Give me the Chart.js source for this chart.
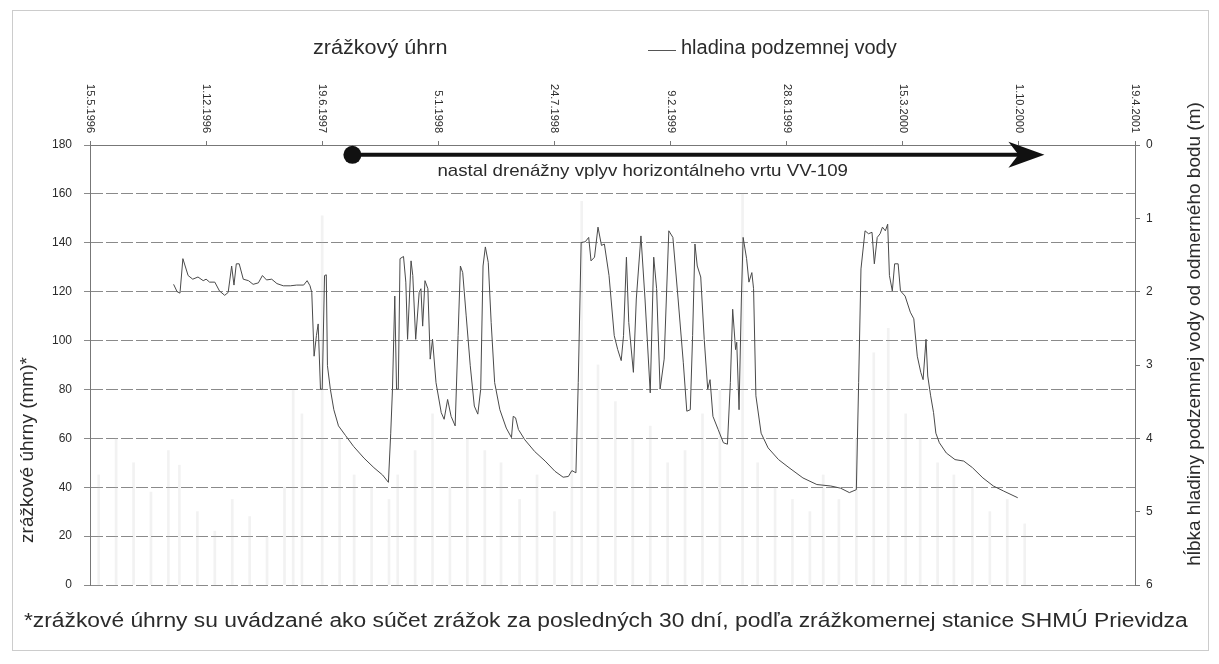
<!DOCTYPE html>
<html>
<head>
<meta charset="utf-8">
<script src="https://cdn.jsdelivr.net/npm/chart.js@4.4.0/dist/chart.umd.min.js"></script>
<style>
  body { margin: 0; background: #fff; }
  #graf { display: block; }
</style>
</head>
<body>
<canvas id="graf" width="1219" height="664"></canvas>
<script>
// dátumy na hornej osi (krok 200 dní od 15.5.1996)
const datumy = [
    '15.5.1996', '1.12.1996', '19.6.1997', '5.1.1998', '24.7.1998',
    '9.2.1999', '28.8.1999', '15.3.2000', '1.10.2000', '19.4.2001'
];

// hladina podzemnej vody: deň od 15.5.1996 a hĺbka (m)
const dni = [
    144, 150, 155, 160, 169, 177, 186, 195, 200, 206, 215, 223, 232, 238, 244, 248, 252, 257, 264, 273,
    281, 290, 297, 304, 313, 322, 333, 345, 356, 368, 374, 379, 382, 386, 390, 393, 397, 400, 404, 407,
    409, 414, 420, 428, 440, 454, 472, 489, 504, 514, 518, 521, 525, 528, 531, 534, 540, 544, 547, 553,
    556, 561, 567, 570, 573, 577, 582, 586, 590, 596, 605, 610, 616, 622, 629, 634, 638, 642, 648, 655,
    662, 668, 673, 677, 681, 686, 691, 697, 706, 717, 726, 729, 733, 738, 749, 766, 784, 801, 815, 824,
    830, 837, 841, 846, 853, 859, 863, 869, 875, 881, 886, 894, 903, 909, 915, 919, 924, 928, 936, 941,
    949, 956, 965, 971, 976, 982, 989, 997, 1004, 1013, 1022, 1028, 1034, 1038, 1042, 1046, 1052, 1058, 1064, 1068,
    1073, 1082, 1091, 1098, 1103, 1107, 1112, 1114, 1118, 1122, 1125, 1131, 1135, 1140, 1143, 1147, 1156, 1168, 1186, 1204,
    1228, 1252, 1276, 1293, 1308, 1320, 1324, 1328, 1335, 1341, 1347, 1351, 1356, 1361, 1365, 1370, 1374, 1377, 1382, 1386,
    1392, 1396, 1404, 1413, 1419, 1425, 1431, 1435, 1440, 1443, 1448, 1453, 1457, 1463, 1475, 1490, 1505, 1520, 1538, 1556,
    1574, 1598
];
const hlbka = [
    1.90, 2.00, 2.02, 1.55, 1.78, 1.83, 1.80, 1.85, 1.83, 1.87, 1.87, 1.99, 2.05, 2.01, 1.65, 1.91, 1.62, 1.62, 1.83, 1.85,
    1.90, 1.88, 1.78, 1.84, 1.83, 1.89, 1.92, 1.92, 1.91, 1.91, 1.85, 1.92, 2.01, 2.88, 2.60, 2.44, 3.33, 3.33, 1.78, 1.77,
    3.01, 3.33, 3.61, 3.83, 3.96, 4.11, 4.27, 4.40, 4.50, 4.60, 3.93, 3.33, 2.06, 3.33, 3.33, 1.55, 1.52, 1.87, 2.65, 1.58,
    1.78, 2.65, 2.01, 1.96, 2.47, 1.85, 1.96, 2.92, 2.65, 3.24, 3.65, 3.74, 3.47, 3.70, 3.83, 2.60, 1.65, 1.74, 2.33, 3.01,
    3.56, 3.67, 3.33, 1.65, 1.39, 1.60, 2.42, 3.24, 3.61, 3.86, 3.99, 3.70, 3.72, 3.88, 4.02, 4.18, 4.31, 4.45, 4.53, 4.52,
    4.44, 4.47, 3.24, 1.33, 1.32, 1.26, 1.58, 1.53, 1.12, 1.37, 1.35, 1.78, 2.60, 2.79, 2.94, 2.60, 1.53, 2.42, 3.10, 2.10,
    1.24, 2.10, 3.38, 1.53, 1.96, 3.33, 2.92, 1.17, 1.26, 2.10, 2.97, 3.63, 3.61, 2.60, 1.35, 1.65, 1.80, 2.65, 3.33, 3.20,
    3.70, 3.88, 4.06, 4.08, 3.24, 2.24, 2.79, 2.69, 3.61, 2.10, 1.26, 1.55, 1.87, 1.74, 1.96, 3.42, 3.93, 4.13, 4.29, 4.40,
    4.54, 4.63, 4.65, 4.68, 4.74, 4.70, 3.24, 1.69, 1.17, 1.21, 1.19, 1.62, 1.26, 1.21, 1.12, 1.17, 1.08, 1.78, 1.99, 1.62,
    1.62, 1.99, 2.06, 2.28, 2.37, 2.88, 3.10, 3.20, 2.65, 3.15, 3.42, 3.65, 3.93, 4.06, 4.20, 4.29, 4.31, 4.40, 4.54, 4.65,
    4.72, 4.81
];

// zrážkové úhrny (mm) - v skene len slabo viditeľné
const zrazkyDni = [
    15, 45, 75, 105, 135, 154, 185, 215, 245, 275, 305, 335, 350, 365, 400, 430, 455, 485, 515, 530,
    560, 590, 620, 650, 680, 708, 740, 770, 800, 830, 847, 875, 905, 935, 965, 995, 1025, 1055, 1085, 1124,
    1150, 1180, 1210, 1240, 1263, 1290, 1320, 1350, 1375, 1405, 1430, 1460, 1488, 1520, 1550, 1580, 1610
];
const zrazky = [
    45, 60, 50, 38, 55, 49, 30, 22, 35, 28, 20, 40, 80, 70, 151, 60, 45, 40, 35, 45,
    55, 70, 40, 60, 55, 50, 35, 45, 30, 60, 157, 90, 75, 60, 65, 50, 55, 70, 80, 160,
    50, 40, 35, 30, 45, 35, 60, 95, 105, 70, 60, 50, 45, 40, 30, 35, 25
];

// šípka: nastal drenážny vplyv
const sipkaOd = 452;
const sipkaDo = 1644;
const sipkaUroven = 176;

const FONT = '"Liberation Sans", Arial, sans-serif';
const TEXT = '#2b2b2b';

// text trochu roztiahnutý do šírky (sken je širší)
function text(ctx, s, x, y, size, sx) {
    ctx.save();
    ctx.font = size + 'px ' + FONT;
    ctx.translate(x, y);
    ctx.scale(sx, 1);
    ctx.fillText(s, 0, 0);
    ctx.restore();
}

// vlastné kreslenie: rám, legenda, dátumy, šípka, popisy osí
const kresba = {
    id: 'kresba',
    beforeDraw(chart) {
        const ctx = chart.ctx;
        ctx.save();
        ctx.fillStyle = '#fff';
        ctx.fillRect(0, 0, chart.width, chart.height);
        ctx.strokeStyle = '#cccccc';
        ctx.lineWidth = 1;
        ctx.strokeRect(12.5, 10.5, 1196, 640);
        ctx.restore();
    },
    afterDraw(chart) {
        const ctx = chart.ctx;
        const sx = chart.scales.x;
        const sy = chart.scales.y;
        ctx.save();
        ctx.fillStyle = TEXT;

        // dátumy
        ctx.font = '11px ' + FONT;
        ctx.textAlign = 'right';
        ctx.textBaseline = 'middle';
        sx.ticks.forEach((t, i) => {
            const px = sx.getPixelForValue(t.value);
            ctx.save();
            ctx.translate(px, 133);
            ctx.rotate(Math.PI / 2);
            ctx.fillText(datumy[i] || '', 0, 0);
            ctx.restore();
        });

        // legenda
        ctx.textAlign = 'left';
        text(ctx, chart.data.datasets[0].label, 313, 48, 20, 1.08);
        ctx.strokeStyle = '#555';
        ctx.lineWidth = 1;
        ctx.beginPath();
        ctx.moveTo(648, 50.5);
        ctx.lineTo(676, 50.5);
        ctx.stroke();
        text(ctx, chart.data.datasets[1].label, 681, 48, 20, 1.0);

        // šípka
        const x0 = sx.getPixelForValue(sipkaOd);
        const x1 = sx.getPixelForValue(sipkaDo);
        const yy = sy.getPixelForValue(sipkaUroven);
        ctx.fillStyle = '#111';
        ctx.strokeStyle = '#111';
        ctx.lineWidth = 4;
        ctx.beginPath();
        ctx.moveTo(x0, yy);
        ctx.lineTo(x1 - 20, yy);
        ctx.stroke();
        ctx.beginPath();
        ctx.arc(x0, yy, 9, 0, Math.PI * 2);
        ctx.fill();
        ctx.beginPath();
        ctx.moveTo(x1, yy);
        ctx.lineTo(x1 - 36, yy - 13);
        ctx.lineTo(x1 - 26, yy);
        ctx.lineTo(x1 - 36, yy + 13);
        ctx.closePath();
        ctx.fill();

        ctx.fillStyle = TEXT;
        text(ctx, 'nastal drenážny vplyv horizontálneho vrtu VV-109', x0 + 85, yy + 17, 17, 1.1);

        // popisy osí
        ctx.textAlign = 'center';
        ctx.font = '19px ' + FONT;
        ctx.save();
        ctx.translate(28, 450);
        ctx.rotate(-Math.PI / 2);
        ctx.fillText('zrážkové úhrny (mm)*', 0, 0);
        ctx.restore();

        ctx.save();
        ctx.translate(1195, 334);
        ctx.rotate(-Math.PI / 2);
        ctx.fillText('hĺbka hladiny podzemnej vody od odmerného bodu (m)', 0, 0);
        ctx.restore();

        // poznámka
        ctx.textAlign = 'left';
        text(ctx, '*zrážkové úhrny su uvádzané ako súčet zrážok za posledných 30 dní, podľa zrážkomernej stanice SHMÚ Prievidza', 24, 621, 20, 1.14);

        ctx.restore();
    }
};

const data = {
    datasets: [{
        type: 'bar',
        label: 'zrážkový úhrn',
        data: zrazkyDni.map((d, i) => ({ x: d, y: zrazky[i] })),
        backgroundColor: 'rgba(185, 185, 185, 0.18)',
        barThickness: 2,
        xAxisID: 'x',
        yAxisID: 'y',
        order: 2
    }, {
        type: 'line',
        label: 'hladina podzemnej vody',
        data: dni.map((d, i) => ({ x: d, y: hlbka[i] })),
        borderColor: '#4a4a4a',
        borderWidth: 1,
        pointRadius: 0,
        tension: 0,
        xAxisID: 'x',
        yAxisID: 'y2',
        order: 1
    }]
};

const config = {
    type: 'bar',
    data: data,
    plugins: [kresba],
    options: {
        responsive: false,
        animation: false,
        devicePixelRatio: 1,
        layout: { padding: { left: 0, right: 0, top: 0, bottom: 79 } },
        plugins: {
            legend: { display: false },
            tooltip: { enabled: false }
        },
        scales: {
            x: {
                type: 'linear',
                position: 'top',
                offset: false,
                min: 0,
                max: 1800,
                ticks: { stepSize: 200, display: false },
                grid: { offset: false, drawOnChartArea: false, tickLength: 4, color: '#777' },
                border: { color: '#777' },
                afterFit: (s) => { s.height = 145; }
            },
            y: {
                position: 'left',
                min: 0,
                max: 180,
                ticks: { stepSize: 20, padding: 12, color: TEXT, font: { family: FONT, size: 12 } },
                grid: { color: '#8a8a8a', tickLength: 6 },
                border: { color: '#777', dash: [12, 3] },
                afterFit: (s) => { s.width = 90; }
            },
            y2: {
                position: 'right',
                reverse: true,
                min: 0,
                max: 6,
                ticks: { stepSize: 1, padding: 6, color: TEXT, font: { family: FONT, size: 12 } },
                grid: { drawOnChartArea: false, tickLength: 5, color: '#777' },
                border: { color: '#777' },
                afterFit: (s) => { s.width = 84; }
            }
        }
    }
};

const graf = new Chart(document.getElementById('graf'), config);
</script>
</body>
</html>
